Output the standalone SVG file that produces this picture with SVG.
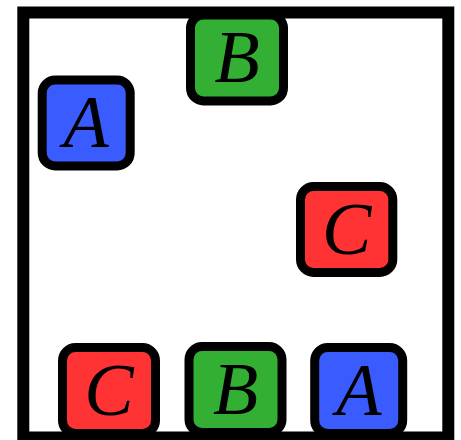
<svg xmlns="http://www.w3.org/2000/svg" width="461" height="440" viewBox="0 0 461 440">
<style>
.box{stroke:#000;stroke-width:9}
.a{fill:#3a5cff}.b{fill:#33b033}.c{fill:#ff3333}
text{font-family:"Liberation Serif","DejaVu Serif",serif;font-style:italic;font-size:74px;text-anchor:middle;fill:#000}
</style>
<rect x="23.3" y="12.5" width="425" height="425" fill="#fff" stroke="#000" stroke-width="12"/>
<g id="A1"><rect class="box a" x="42.2" y="80" width="88" height="86" rx="13"/><text x="86.2" y="147">A</text></g>
<g id="B1"><rect class="box b" x="190.5" y="15" width="93" height="86" rx="13"/><text x="237" y="82">B</text></g>
<g id="C1"><rect class="box c" x="300.5" y="186.5" width="92.3" height="86" rx="13"/><text x="346.7" y="253.5">C</text></g>
<g id="C2"><rect class="box c" x="62.5" y="347.5" width="93" height="86" rx="13"/><text x="109" y="414.5">C</text></g>
<g id="B2"><rect class="box b" x="189" y="346.5" width="93" height="86" rx="13"/><text x="235.5" y="413.5">B</text></g>
<g id="A2"><rect class="box a" x="314.7" y="347.5" width="88" height="86" rx="13"/><text x="358.8" y="414.5">A</text></g>
<g id="connectors"></g>
</svg>
